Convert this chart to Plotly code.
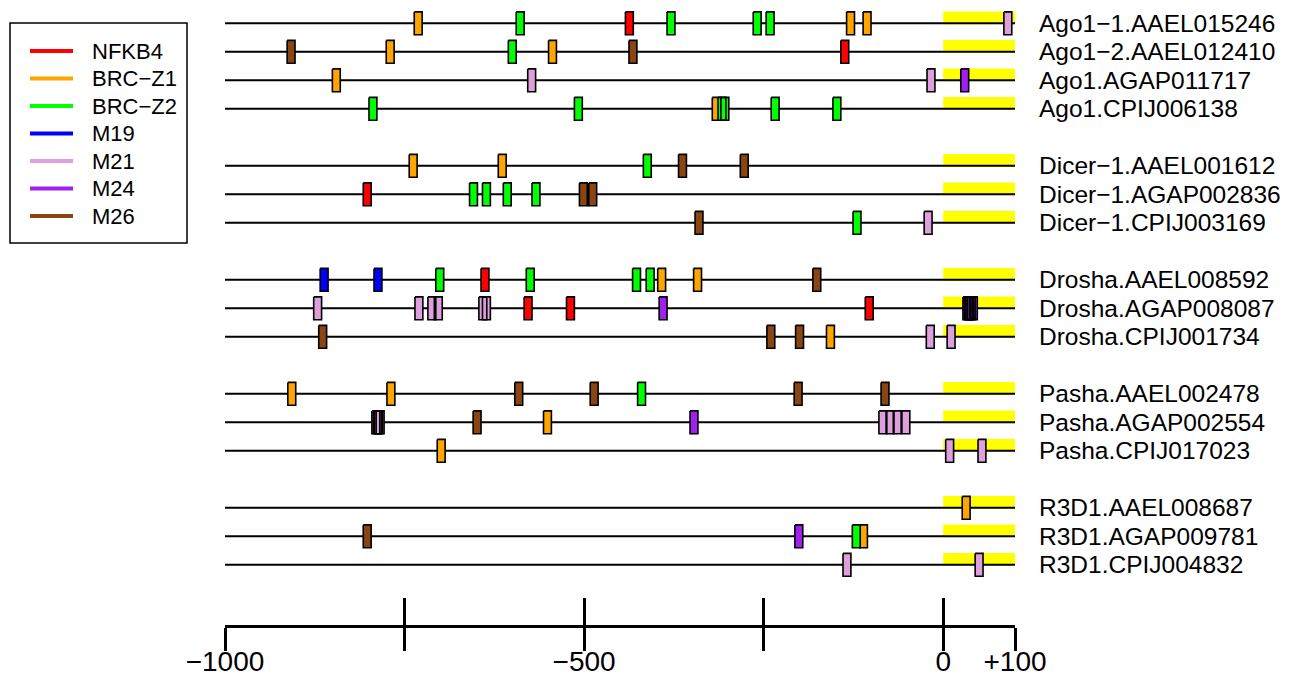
import plotly.graph_objects as go

# ---------------- data ----------------
genes = [
    "Ago1−1.AAEL015246", "Ago1−2.AAEL012410", "Ago1.AGAP011717", "Ago1.CPIJ006138",
    "Dicer−1.AAEL001612", "Dicer−1.AGAP002836", "Dicer−1.CPIJ003169",
    "Drosha.AAEL008592", "Drosha.AGAP008087", "Drosha.CPIJ001734",
    "Pasha.AAEL002478", "Pasha.AGAP002554", "Pasha.CPIJ017023",
    "R3D1.AAEL008687", "R3D1.AGAP009781", "R3D1.CPIJ004832",
]
gene_rows = [0, 1, 2, 3, 5, 6, 7, 9, 10, 11, 13, 14, 15, 17, 18, 19]

motifs = ["NFKB4", "BRC−Z1", "BRC−Z2", "M19", "M21", "M24", "M26"]
motif_colors = ["#FF0000", "#FFA500", "#00FF00", "#0000FF", "#DDA0DD", "#A020F0", "#8B4513"]

# sites per motif: (gene index, position relative to TSS)
sites_NFKB4 = [(0, -437), (1, -137), (5, -802), (7, -638), (8, -578), (8, -519), (8, -103)]
sites_BRCZ1 = [(0, -731), (0, -129), (0, -106), (1, -770), (1, -544), (2, -845), (3, -316),
               (4, -738), (4, -614), (7, -392), (7, -342), (9, -157), (10, -907), (10, -769),
               (11, -551), (12, -699), (13, 32), (14, -111)]
sites_BRCZ2 = [(0, -589), (0, -379), (0, -259), (0, -241), (1, -600), (3, -794), (3, -508),
               (3, -308), (3, -304), (3, -234), (3, -148), (4, -412), (5, -654), (5, -636),
               (5, -607), (5, -567), (6, -120), (7, -701), (7, -575), (7, -427), (7, -408),
               (10, -420), (14, -121)]
sites_M19 = [(7, -862), (7, -787)]
sites_M21 = [(0, 90), (2, -573), (2, -17), (6, -21), (8, -871), (8, -730), (8, -712), (8, -703),
             (8, -641), (8, -636), (9, -18), (9, 11), (11, -790), (11, -788), (11, -786),
             (11, -784), (11, -84), (11, -74), (11, -64), (11, -52), (12, 9), (12, 54),
             (15, -134), (15, 50)]
sites_M24 = [(2, 30), (8, -390), (8, 33), (8, 35), (8, 37), (8, 39), (8, 42), (11, -347), (14, -201)]
sites_M26 = [(1, -908), (1, -432), (4, -363), (4, -277), (5, -501), (5, -488), (6, -340),
             (7, -176), (9, -864), (9, -240), (9, -200), (10, -591), (10, -486), (10, -202),
             (10, -81), (11, -649), (14, -802)]
motif_sites = [sites_NFKB4, sites_BRCZ1, sites_BRCZ2, sites_M19, sites_M21, sites_M24, sites_M26]

x_start, x_end = -1000, 100
utr_start, utr_end = 0, 100
tick_vals = [-1000, -750, -500, -250, 0, 100]
tick_text = ["−1000", "", "−500", "", "0", "+100"]

# ---------------- geometry ----------------
BOX_HALF_W = 5.5      # data units
BOX_HALF_H = 0.40     # rows
UTR_H = 0.41
FONT = "Liberation Sans"

OFF = 8  # page body margin of the html page
W, H = 1295 - OFF, 677 - OFF
plot_left, plot_right, plot_bottom = 225 - OFF, 1015 - OFF, 625 - OFF
row0_px, row_px = 23.3 - OFF, 28.5
y_top = -row0_px / row_px
y_bot = (plot_bottom - row0_px) / row_px
plot_w = plot_right - plot_left
plot_h = plot_bottom


def px_x(px):
    return (px - OFF - plot_left) / plot_w


def px_y(py):
    return (plot_bottom - (py - OFF)) / plot_h


fig = go.Figure()

# yellow UTR blocks
ux, uy = [], []
for r in gene_rows:
    ux += [utr_start, utr_end, utr_end, utr_start, utr_start, None]
    uy += [r - UTR_H, r - UTR_H, r + 0.03, r + 0.03, r - UTR_H, None]
fig.add_trace(go.Scatter(x=ux, y=uy, mode="lines", fill="toself", fillcolor="#FFFF00",
                         line=dict(width=0, color="#FFFF00"), hoverinfo="skip", showlegend=False))

# promoter lines
lx, ly = [], []
for r in gene_rows:
    lx += [x_start, x_end, None]
    ly += [r, r, None]
fig.add_trace(go.Scatter(x=lx, y=ly, mode="lines", line=dict(color="black", width=2),
                         hoverinfo="skip", showlegend=False))

# motif boxes
for name, col, sites in zip(motifs, motif_colors, motif_sites):
    bx, by = [], []
    for gi, pos in sites:
        r = gene_rows[gi]
        bx += [pos - BOX_HALF_W, pos + BOX_HALF_W, pos + BOX_HALF_W, pos - BOX_HALF_W, pos - BOX_HALF_W, None]
        by += [r - BOX_HALF_H, r - BOX_HALF_H, r + BOX_HALF_H, r + BOX_HALF_H, r - BOX_HALF_H, None]
    fig.add_trace(go.Scatter(x=bx, y=by, mode="lines", fill="toself", fillcolor=col,
                             line=dict(color="black", width=1.6), name=name,
                             showlegend=False, hoverinfo="skip"))

# invisible trace for overlay axis (upward tick halves)
fig.add_trace(go.Scatter(x=[x_start, x_end], y=[None, None], xaxis="x2", yaxis="y",
                         mode="lines", showlegend=False, hoverinfo="skip"))

# gene labels
for g, r in zip(genes, gene_rows):
    fig.add_annotation(x=1, xref="paper", xanchor="left", xshift=22, y=r, yref="y",
                       yanchor="middle", text=g, showarrow=False,
                       font=dict(family=FONT, size=24.5, color="black"))

# legend (box, colour keys, labels)
fig.add_shape(type="rect", xref="paper", yref="paper",
              x0=px_x(10), x1=px_x(187), y0=px_y(23), y1=px_y(243),
              line=dict(color="black", width=1.5), fillcolor="white", layer="above")
for i, (name, col) in enumerate(zip(motifs, motif_colors)):
    yy = 51 + 27.5 * i
    fig.add_shape(type="line", xref="paper", yref="paper",
                  x0=px_x(30), x1=px_x(73), y0=px_y(yy), y1=px_y(yy),
                  line=dict(color=col, width=4), layer="above")
    fig.add_annotation(xref="paper", yref="paper", x=px_x(90), y=px_y(yy),
                       xanchor="left", yanchor="middle", text=name, showarrow=False,
                       font=dict(family=FONT, size=22, color="black"))

fig.update_layout(
    width=W, height=H,
    margin=dict(l=plot_left, r=W - plot_right, t=0, b=H - plot_bottom, pad=0, autoexpand=False),
    plot_bgcolor="white", paper_bgcolor="white",
    font=dict(family=FONT, color="black"),
    xaxis=dict(range=[x_start, x_end], showgrid=False, zeroline=False, automargin=False,
               showline=True, linecolor="black", linewidth=3,
               ticks="outside", ticklen=23, tickwidth=3, tickcolor="black",
               tickvals=tick_vals, ticktext=tick_text, ticklabelstandoff=-14,
               tickfont=dict(family=FONT, size=28, color="black")),
    xaxis2=dict(range=[x_start, x_end], overlaying="x", anchor="y", side="bottom",
                showgrid=False, zeroline=False, showline=False, automargin=False,
                ticks="inside", ticklen=27, tickwidth=3, tickcolor="black",
                tickvals=tick_vals, showticklabels=False),
    yaxis=dict(range=[y_bot, y_top], showgrid=False, zeroline=False, showline=False,
               showticklabels=False, ticks="", automargin=False),
    showlegend=False,
)

fig.write_html("out.html")
